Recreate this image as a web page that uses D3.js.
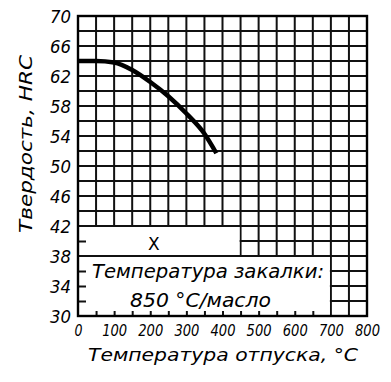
<!DOCTYPE html>
<html><head><meta charset="utf-8">
<script src="https://cdn.jsdelivr.net/npm/d3@7"></script>
<style>html,body{margin:0;padding:0;background:#fff;} svg{display:block;}</style>
</head><body>
<script>
// ---- data ----
const temperatures = [0, 50, 100, 150, 200, 250, 300, 350, 383];
const hardness     = [64, 64, 63.8, 62.8, 61.2, 59.3, 57.0, 54.3, 51.7];
const xTickLabels  = [0, 100, 200, 300, 400, 500, 600, 700, 800];
const yTickLabels  = [30, 34, 38, 42, 46, 50, 54, 58, 62, 66, 70];
const xTitle = "Температура отпуска, °C";
const yTitle = "Твердость, HRC";
const boxLabel = "X";
const noteLines = ["Температура закалки:", "850 °C/масло"];

// ---- layout ----
const W = 391, H = 382;
const m = {top: 16, right: 24, bottom: 66, left: 78};
const FONT = "'DejaVu Sans', sans-serif";

const svg = d3.select("body").append("svg").attr("width", W).attr("height", H);
svg.append("rect").attr("width", W).attr("height", H).attr("fill", "#fff");

const x = d3.scaleLinear().domain([0, 800]).range([m.left, W - m.right]);
const y = d3.scaleLinear().domain([30, 70]).range([H - m.bottom, m.top]);

// grid
const g = svg.append("g");
g.selectAll("line.v").data(x.ticks(16)).join("line")
  .attr("x1", d => x(d)).attr("x2", d => x(d))
  .attr("y1", y(30)).attr("y2", y(70))
  .attr("stroke", "#111").attr("stroke-width", 2);
g.selectAll("line.h").data(y.ticks(20)).join("line")
  .attr("x1", x(0)).attr("x2", x(800))
  .attr("y1", d => y(d)).attr("y2", d => y(d))
  .attr("stroke", "#111").attr("stroke-width", 2);

// white panels
g.append("rect").attr("x", x(0) + 1).attr("y", y(42) + 1)
  .attr("width", x(450) - x(0) - 2).attr("height", y(38) - y(42) - 2).attr("fill", "#fff");
g.append("rect").attr("x", x(0) + 1).attr("y", y(38) + 1)
  .attr("width", x(700) - x(0) - 2).attr("height", y(30) - y(38) - 2).attr("fill", "#fff");

// inner ticks in panels
const innerLeft = svg.append("g").attr("transform", `translate(${x(0)},0)`)
  .call(d3.axisLeft(y).tickValues([32, 34, 36, 40]).tickSize(-8).tickFormat(""));
innerLeft.select(".domain").remove();
innerLeft.selectAll("line").attr("stroke", "#111").attr("stroke-width", 2);
const innerBottom = svg.append("g").attr("transform", `translate(0,${y(30)})`)
  .call(d3.axisBottom(x).tickValues(x.ticks(16).filter(d => d > 0 && d < 700)).tickSize(-5).tickFormat(""));
innerBottom.select(".domain").remove();
innerBottom.selectAll("line").attr("stroke", "#111").attr("stroke-width", 2);

// border
svg.append("rect").attr("x", x(0)).attr("y", y(70))
  .attr("width", x(800) - x(0)).attr("height", y(30) - y(70))
  .attr("fill", "none").attr("stroke", "#000").attr("stroke-width", 2.4);

// curve
const pts = temperatures.map((t, i) => [t, hardness[i]]);
svg.append("path").datum(pts)
  .attr("d", d3.line().x(d => x(d[0])).y(d => y(d[1])).curve(d3.curveMonotoneX))
  .attr("fill", "none").attr("stroke", "#000").attr("stroke-width", 4.5);

// axis labels
const yAx = svg.append("g").attr("transform", `translate(${x(0)},0)`)
  .call(d3.axisLeft(y).tickValues(yTickLabels).tickSize(0).tickPadding(7));
yAx.select(".domain").remove();
yAx.selectAll("text").attr("font-family", FONT).attr("font-style", "italic")
  .attr("font-size", 17).attr("fill", "#000").attr("dy", "0.4em")
  .attr("textLength", 21).attr("lengthAdjust", "spacingAndGlyphs");

const xAx = svg.append("g").attr("transform", `translate(0,${y(30)})`)
  .call(d3.axisBottom(x).tickValues(xTickLabels).tickSize(0).tickPadding(8));
xAx.select(".domain").remove();
xAx.selectAll("text").attr("font-family", FONT).attr("font-style", "italic")
  .attr("font-size", 16.5).attr("fill", "#000")
  .attr("textLength", d => d === 0 ? 8 : 25).attr("lengthAdjust", "spacingAndGlyphs");

// titles
svg.append("text").attr("x", 88).attr("y", 361)
  .attr("font-family", FONT).attr("font-style", "italic").attr("font-size", 18)
  .attr("textLength", 270).attr("lengthAdjust", "spacingAndGlyphs").text(xTitle);
svg.append("text").attr("transform", "translate(32,233) rotate(-90)")
  .attr("font-family", FONT).attr("font-style", "italic").attr("font-size", 18)
  .attr("textLength", 178).attr("lengthAdjust", "spacingAndGlyphs").text(yTitle);

// panel texts
svg.append("text").attr("x", x(210)).attr("y", 250).attr("text-anchor", "middle")
  .attr("font-family", FONT).attr("font-size", 17).text(boxLabel);
svg.append("text").attr("x", 92).attr("y", 278)
  .attr("font-family", FONT).attr("font-style", "italic").attr("font-size", 19)
  .attr("textLength", 232).attr("lengthAdjust", "spacingAndGlyphs").text(noteLines[0]);
svg.append("text").attr("x", 130).attr("y", 307)
  .attr("font-family", FONT).attr("font-style", "italic").attr("font-size", 19)
  .attr("textLength", 141).attr("lengthAdjust", "spacingAndGlyphs").text(noteLines[1]);
</script>
</body></html>
